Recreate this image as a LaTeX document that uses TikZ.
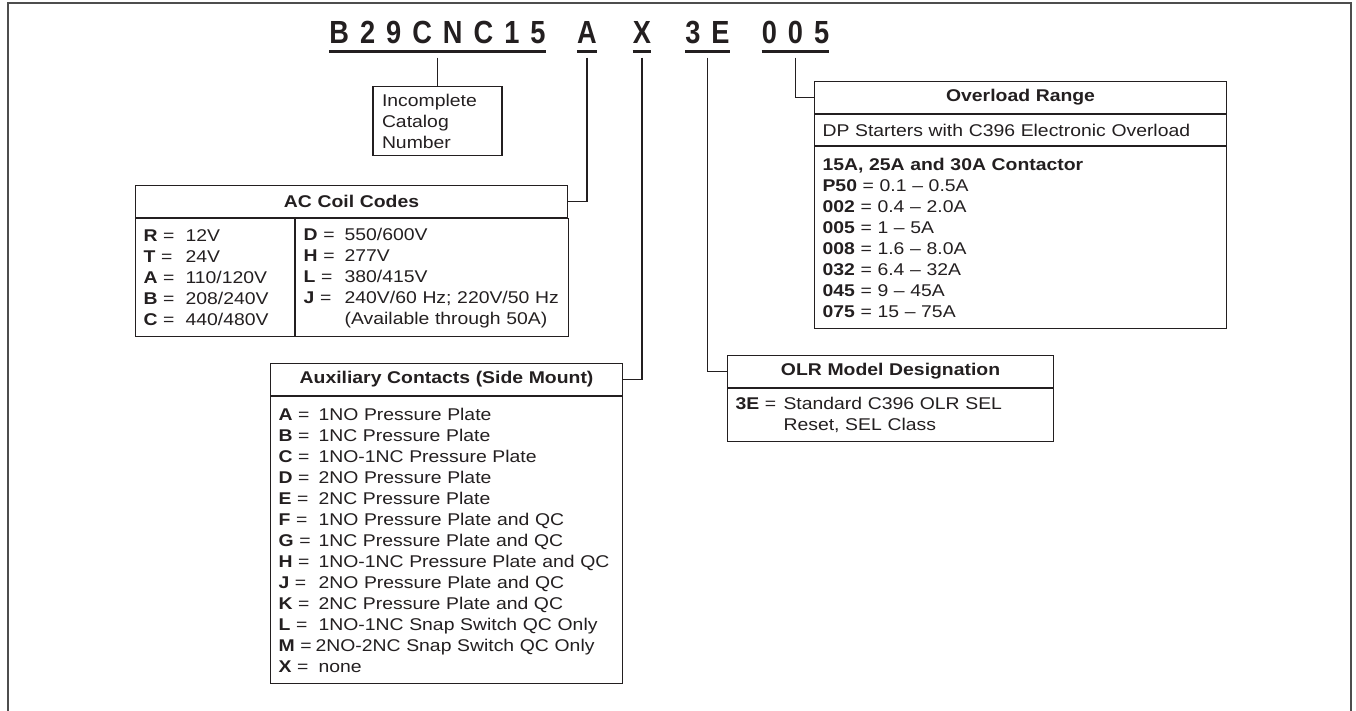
\documentclass[tikz,border=0pt]{standalone}
\usepackage{fontspec}
\setmainfont{Liberation Sans}[FakeStretch=1.14]
\newfontfamily\codefont{Liberation Sans}[FakeStretch=0.85]
\usepackage{tikz}
\usetikzlibrary{positioning}
\definecolor{ink}{HTML}{231F20}
\definecolor{frameline}{HTML}{4D4D4D}
\newcommand\codegap{\hspace{11pt}}
\newcommand\keyval[3][42pt]{\makebox[#1][l]{\textbf{#2} =}#3}

\begin{document}
\begin{tikzpicture}[
  x=1pt, y=-1pt,
  font=\fontsize{17}{21}\selectfont, text=ink,
  code/.style={font=\codefont\bfseries\fontsize{32}{32}\selectfont, anchor=base,
               inner xsep=0pt, inner ysep=7.5pt, text depth=0pt},
  uline/.style={draw=ink, line width=3pt},
  conn/.style={draw=ink, line width=1.3pt},
  hdr/.style={draw=ink, line width=1.1pt, text width=#1, inner xsep=8pt, inner ysep=0pt,
              minimum height=32pt, align=center, font=\fontsize{17}{21}\selectfont\bfseries},
  cell/.style={draw=ink, line width=1.1pt, text width=#1, inner xsep=8pt, inner ysep=0pt,
               align=left},
  frame/.style={draw=frameline, line width=2pt}
]
\useasboundingbox (0,0) rectangle (1356,711);
\draw[frame] (8,711) |- (1351,3) -- (1351,711);
% ----- catalog number -----
\node[code] (tB) at (437.5,44) {B\codegap 2\codegap 9\codegap C\codegap N\codegap C\codegap 1\codegap 5};
\node[code] (tA) at (587,44) {A};
\node[code] (tX) at (642,44) {X};
\node[code] (t3E) at (707.5,44) {3\codegap E};
\node[code] (t005) at (795.5,44) {0\codegap 0\codegap 5};
\foreach \t in {tB, tA, tX, t3E, t005}{\draw[uline] (\t.south west) -- (\t.south east);}
% ----- incomplete number -----
\node[cell=111pt, inner xsep=9pt, minimum height=69pt, anchor=north] (inc) at (437.5,86)
  {Incomplete\\Catalog\\Number};
% ----- AC coil codes -----
\node[hdr=416pt, anchor=north west] (achead) at (135,185) {AC Coil Codes};
\node[cell=143pt, minimum height=118pt, anchor=north west] (acleft) at (achead.south west)
  {\keyval{R}{12V}\\ \keyval{T}{24V}\\ \keyval{A}{110/120V}\\ \keyval{B}{208/240V}\\ \keyval{C}{440/480V}};
\node[cell=257pt, minimum height=118pt, right=0pt of acleft] (acright)
  {\keyval[41pt]{D}{550/600V}\\ \keyval[41pt]{H}{277V}\\ \keyval[41pt]{L}{380/415V}\\
   \keyval[41pt]{J}{240V/60 Hz; 220V/50 Hz}\\ \hspace*{41pt}(Available through 50A)};
% ----- auxiliary contacts -----
\node[hdr=336pt, anchor=north west] (auxhead) at (270,363) {Auxiliary Contacts (Side Mount)};
\node[cell=336pt, minimum height=287pt, below=0pt of auxhead] (auxbody)
  {\keyval[40pt]{A}{1NO Pressure Plate}\\ \keyval[40pt]{B}{1NC Pressure Plate}\\
   \keyval[40pt]{C}{1NO-1NC Pressure Plate}\\ \keyval[40pt]{D}{2NO Pressure Plate}\\
   \keyval[40pt]{E}{2NC Pressure Plate}\\ \keyval[40pt]{F}{1NO Pressure Plate and QC}\\
   \keyval[40pt]{G}{1NC Pressure Plate and QC}\\ \keyval[40pt]{H}{1NO-1NC Pressure Plate and QC}\\
   \keyval[40pt]{J}{2NO Pressure Plate and QC}\\ \keyval[40pt]{K}{2NC Pressure Plate and QC}\\
   \keyval[40pt]{L}{1NO-1NC Snap Switch QC Only}\\ \keyval[37pt]{M}{2NO-2NC Snap Switch QC Only}\\
   \keyval[40pt]{X}{none}};
% ----- OLR model -----
\node[hdr=310pt, anchor=north west] (olrhead) at (727,355) {OLR Model Designation};
\node[cell=310pt, minimum height=53pt, below=0pt of olrhead] (olrbody)
  {\keyval[48pt]{3E}{Standard C396 OLR SEL}\\ \hspace*{48pt}Reset, SEL Class};
% ----- overload range -----
\node[hdr=396pt, anchor=north west] (ovlhead) at (814,81) {Overload Range};
\node[cell=396pt, minimum height=31pt, below=0pt of ovlhead] (ovlsub)
  {DP Starters with C396 Electronic Overload};
\node[cell=396pt, minimum height=182pt, below=0pt of ovlsub] (ovlbody)
  {\textbf{15A, 25A and 30A Contactor}\\ \textbf{P50} = 0.1 -- 0.5A\\ \textbf{002} = 0.4 -- 2.0A\\
   \textbf{005} = 1 -- 5A\\ \textbf{008} = 1.6 -- 8.0A\\ \textbf{032} = 6.4 -- 32A\\
   \textbf{045} = 9 -- 45A\\ \textbf{075} = 15 -- 75A};
% ----- connectors -----
\draw[conn] ([yshift=-6pt]tB.south) -- (inc.north);
\draw[conn] ([yshift=-6pt]tA.south) |- (achead.east);
\draw[conn] ([yshift=-6pt]tX.south) |- (auxhead.east);
\draw[conn] ([yshift=-6pt]t3E.south) |- (olrhead.west);
\draw[conn] ([yshift=-6pt]t005.south) |- (ovlhead.west);
\end{tikzpicture}
\end{document}
